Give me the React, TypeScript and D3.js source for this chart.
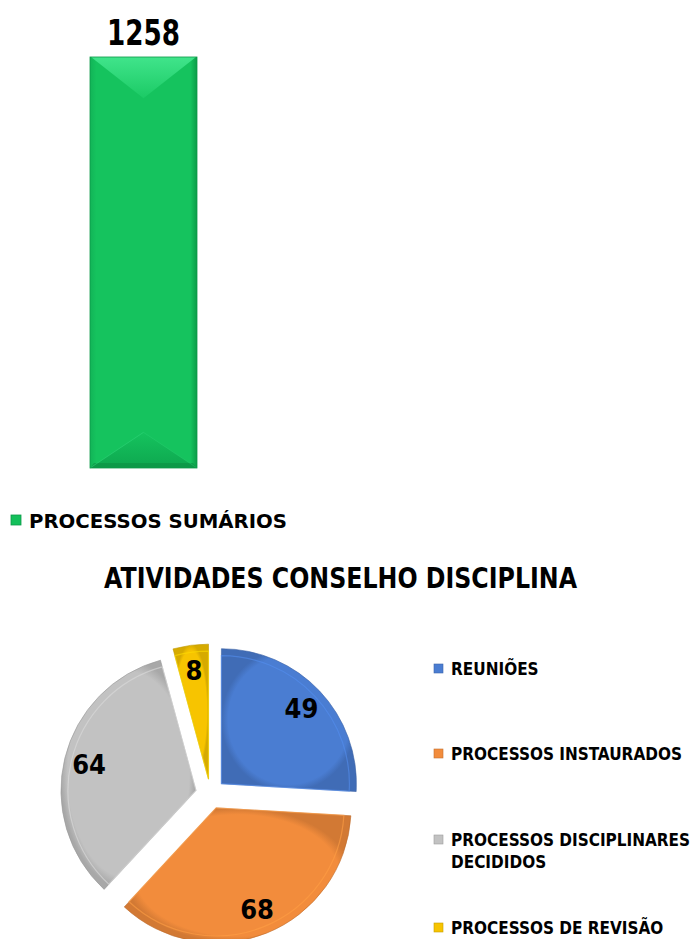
import React from "react";
import * as d3 from "d3";

const barCategories = ["PROCESSOS SUMÁRIOS"];
const barValues = [1258];
const barColor = "#13c05b";

const pieTitle = "ATIVIDADES CONSELHO DISCIPLINA";
const pieLabels = [
  "REUNIÕES",
  "PROCESSOS INSTAURADOS",
  "PROCESSOS DISCIPLINARES DECIDIDOS",
  "PROCESSOS DE REVISÃO",
];
const pieValues = [49, 68, 64, 8];
const pieColors = ["#4a7dd2", "#f28c3c", "#c2c2c2", "#f7c400"];

const W = 696;
const H = 939;
const FONT = "'DejaVu Sans', sans-serif";
const cond = { fontStretch: "condensed" as const };

function wrap(label: string, maxChars: number): string[] {
  const words = label.split(" ");
  const lines: string[] = [];
  let cur = "";
  for (const w of words) {
    const t = cur ? cur + " " + w : w;
    if (t.length > maxChars && cur) {
      lines.push(cur);
      cur = w;
    } else cur = t;
  }
  if (cur) lines.push(cur);
  return lines;
}

export default function App() {
  // ---- bar chart
  const x = d3.scaleBand<string>().domain(barCategories).range([-17, 304]).padding(0.5);
  const y = d3.scaleLinear().domain([0, 1400]).range([468, 10.6]);

  // ---- pie chart
  const cx = 210.5;
  const cy = 794;
  const R = 135;
  const explode = 15;
  const pie = d3.pie<number>().sort(null).value((d) => d)(pieValues);
  const arc = d3.arc<d3.PieArcDatum<number>>().innerRadius(0).outerRadius(R);
  const innerArc = d3.arc<d3.PieArcDatum<number>>().innerRadius(0).outerRadius(R - 7);
  const labelArc = d3.arc<d3.PieArcDatum<number>>().innerRadius(110).outerRadius(110);

  const legendY = [669, 754, 840, 928];

  return (
    <div style={{ position: "absolute", left: 0, top: 0, width: W, height: H, background: "#fff" }}>
      <svg width={W} height={H} style={{ display: "block" }}>
        <defs>
          <linearGradient id="barSide" x1="0" x2="1" y1="0" y2="0">
            <stop offset="0" stopColor="#12b457" />
            <stop offset="0.06" stopColor="#15c35e" />
            <stop offset="0.94" stopColor="#15c35e" />
            <stop offset="1" stopColor="#0c9c48" />
          </linearGradient>
          <linearGradient id="barTop" x1="0" x2="0" y1="0" y2="1">
            <stop offset="0" stopColor="#45e890" />
            <stop offset="1" stopColor="#1ccb66" />
          </linearGradient>
          <linearGradient id="barBot" x1="0" x2="0" y1="0" y2="1">
            <stop offset="0" stopColor="#15c35e" />
            <stop offset="1" stopColor="#0ea74f" />
          </linearGradient>
          {pieColors.map((c, i) => (
            <radialGradient key={i} id={"pg" + i} cx="50%" cy="50%" r="50%">
              <stop offset="0" stopColor={c} />
              <stop offset="0.9" stopColor={c} />
              <stop offset="1" stopColor={d3.color(c)!.darker(0.4).toString()} />
            </radialGradient>
          ))}
        </defs>

        {/* Bar */}
        {barCategories.map((cat, i) => {
          const x0 = x(cat)!;
          const bw = x.bandwidth();
          const x1 = x0 + bw;
          const yt = y(barValues[i]);
          const yb = y(0);
          const ins = bw / 2.6;
          const mx = x0 + bw / 2;
          return (
            <g key={cat}>
              <rect x={x0} y={yt} width={bw} height={yb - yt} fill="url(#barSide)" />
              <polygon points={`${x0 + 1},${yt} ${x1 - 1},${yt} ${mx},${yt + ins}`} fill="url(#barTop)" opacity={0.9} />
              <polygon points={`${x0},${yb} ${x1},${yb} ${mx},${yb - bw / 3}`} fill="url(#barBot)" />
              <polygon points={`${x0},${yb} ${x1},${yb} ${x1 - 4},${yb - 5} ${x0 + 4},${yb - 5}`} fill="#0b8f43" opacity={0.6} />
              <line x1={x0} y1={yb} x2={mx} y2={yb - bw / 3} stroke="#35d87f" strokeWidth={1} opacity={0.5} />
              <line x1={x1} y1={yb} x2={mx} y2={yb - bw / 3} stroke="#35d87f" strokeWidth={1} opacity={0.3} />
              <rect x={x0} y={yt} width={bw} height={yb - yt} fill="none" stroke="#0d9a49" strokeWidth={0.8} />
              <text
                x={mx}
                y={yt - 12}
                textAnchor="middle"
                fontFamily={FONT}
                fontWeight="bold"
                fontSize={36}
                textLength={73}
                lengthAdjust="spacingAndGlyphs"
                fill="#000"
              >
                {barValues[i]}
              </text>
            </g>
          );
        })}

        {/* Bar legend */}
        <rect x={11} y={515} width={10} height={10} fill={barColor} stroke="#0d9a49" strokeWidth={0.8} />
        <text x={29} y={527.5} fontFamily={FONT} fontWeight="bold" fontSize={19} textLength={258} lengthAdjust="spacingAndGlyphs" fill="#000">
          {barCategories[0]}
        </text>

        {/* Pie title */}
        <text x={340.5} y={588} textAnchor="middle" fontFamily={FONT} fontWeight="bold" fontSize={28} textLength={473} lengthAdjust="spacingAndGlyphs" fill="#000">
          {pieTitle}
        </text>

        {/* Pie */}
        {pie.map((p, i) => {
          const mid = (p.startAngle + p.endAngle) / 2;
          const ox = cx + Math.sin(mid) * explode;
          const oy = cy - Math.cos(mid) * explode;
          const [lx, ly] = labelArc.centroid(p);
          const c = pieColors[i];
          return (
            <g key={i} transform={`translate(${ox},${oy})`}>
              <path d={arc(p)!} fill={`url(#pg${i})`} stroke={d3.color(c)!.darker(0.7).toString()} strokeWidth={0.6} />
              <path d={innerArc(p)!} fill="none" stroke={d3.color(c)!.brighter(0.35).toString()} strokeWidth={1.2} opacity={0.6} />
              <text
                x={lx}
                y={ly}
                textAnchor="middle"
                dominantBaseline="central"
                fontFamily={FONT}
                fontWeight="bold"
                fontSize={27}
                style={cond}
                fill="#000"
              >
                {p.data}
              </text>
            </g>
          );
        })}

        {/* Pie legend */}
        {pieLabels.map((lab, i) => {
          const lines = wrap(lab, 23);
          const yy = legendY[i];
          const c = pieColors[i];
          return (
            <g key={lab}>
              <rect x={434} y={yy - 5} width={9} height={9} fill={c} stroke={d3.color(c)!.darker(0.6).toString()} strokeWidth={0.6} />
              {lines.map((ln, j) => (
                <text key={j} x={451} y={yy + 6 + j * 22} fontFamily={FONT} fontWeight="bold" fontSize={17} style={cond} fill="#000">
                  {ln}
                </text>
              ))}
            </g>
          );
        })}
      </svg>
    </div>
  );
}
